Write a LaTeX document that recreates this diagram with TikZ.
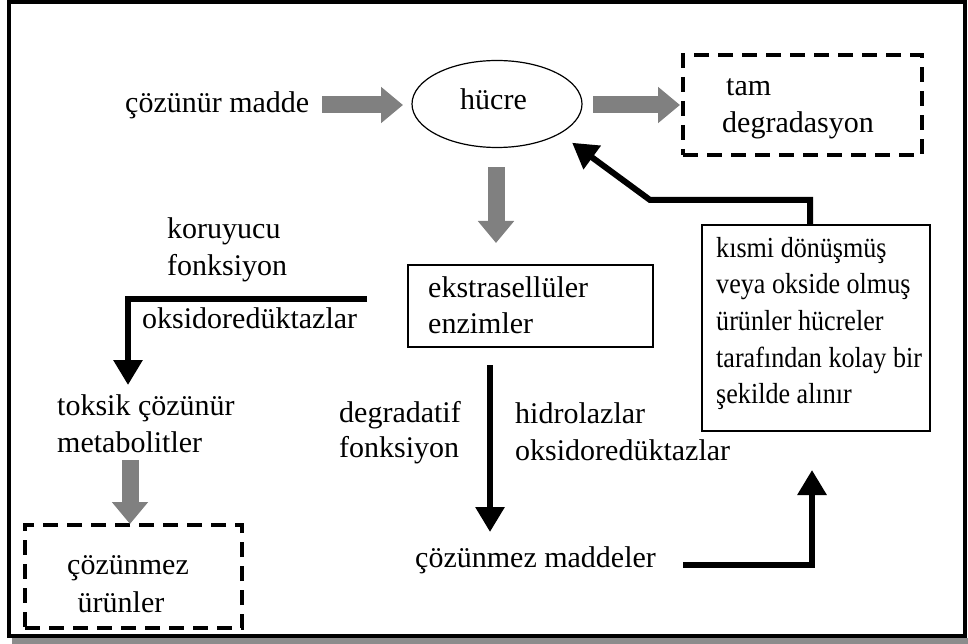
\documentclass[tikz,border=0pt]{standalone}
\usepackage{fontspec}
\setmainfont{Liberation Serif}
\newfontfamily\rbfont[FakeStretch=0.9]{Liberation Serif}
\usetikzlibrary{arrows.meta,shapes.geometric,calc}
\definecolor{garr}{RGB}{128,128,128}
\definecolor{shad}{RGB}{140,140,140}
\begin{document}
\begin{tikzpicture}[x=1pt,y=-1pt,
  txt/.style={font=\fontsize{30}{36}\selectfont, inner sep=0pt, anchor=base west},
  rtxt/.style={font=\rbfont\fontsize{29}{36}\selectfont, inner sep=0pt, anchor=base west},
  garrow/.style={draw=garr, line width=17pt, -{Triangle[width=35pt,length=22pt]}},
  barrow/.style={draw=black, line width=6pt, -{Triangle[width=28pt,length=25pt]}},
  box/.style={draw, line width=1.5pt, inner sep=0pt, outer sep=0pt},
  dbox/.style={draw, line width=4.5pt, dash pattern=on 15pt off 9pt, inner sep=0pt, outer sep=0pt}]
\useasboundingbox (0,0) rectangle (968,644);
% frame and shadow
\fill[shad] (12,638) rectangle (968,644);
\draw[line width=4pt] (9,2.5) rectangle (964.5,636);

% nodes
\node[txt] (t1) at (125,113) {çözünür madde};
\node[draw, ellipse, line width=1.2pt, minimum width=170pt, minimum height=87pt, inner sep=0pt, outer sep=0pt] (cell) at (497,104) {};
\node[txt] (hu) at (460,110) {hücre};
\node[dbox, minimum width=239pt, minimum height=100pt] (tam) at (802.5,105) {};
\node[txt] (tam1) at (726,96) {tam};
\node[txt] (tam2) at (722,133) {degradasyon};

\node[box, minimum width=245pt, minimum height=82pt] (ek) at (530.5,306) {};
\node[txt] (ek1) at (428,297) {ekstrasellüler};
\node[txt] (ek2) at (428,333) {enzimler};

\node[txt] (kor1) at (167,238) {koruyucu};
\node[txt] (kor2) at (167,275) {fonksiyon};
\node[txt] (oks1) at (142,328) {oksidoredüktazlar};
\node[txt] (tox1) at (57,415) {toksik çözünür};
\node[txt] (tox2) at (57,452) {metabolitler};

\node[dbox, minimum width=217pt, minimum height=103pt] (cz) at (133.5,576.5) {};
\node[txt, anchor=base] (cz1) at (128,574) {çözünmez};
\node[txt, anchor=base] (cz2) at (121,612) {ürünler};

\node[txt] (deg1) at (339,422) {degradatif};
\node[txt] (deg2) at (339,457) {fonksiyon};
\node[txt] (hid1) at (515,423) {hidrolazlar};
\node[txt] (hid2) at (515,460) {oksidoredüktazlar};
\node[txt] (cm) at (415,567) {çözünmez maddeler};

\node[box, minimum width=228pt, minimum height=206pt] (rb) at (816,328) {};
\node[rtxt] (rb1) at (716,257) {kısmi dönüşmüş};
\node[rtxt] (rb2) at (716,293) {veya okside olmuş};
\node[rtxt] (rb3) at (716,330) {ürünler hücreler};
\node[rtxt] (rb4) at (716,367) {tarafından kolay bir};
\node[rtxt] (rb5) at (716,403) {şekilde alınır};

% gray block arrows
\draw[garrow] ($(cell.west)+(-90,1)$) -- ($(cell.west)+(-9,1)$);
\draw[garrow] ($(cell.east)+(11,1)$) -- ($(tam.west)+(-3,0)$);
\draw[garrow] ($(cell.south)+(-1,20)$) -- ($(cell.south |- ek.north)+(-1,-22)$);
\draw[garrow] ($(tox2.base west)+(73,8)$) -- ($(cz.north)+(-3.5,-1)$);

% black arrows
\draw[barrow] ($(ek.west)+(-41,-7)$) -| ($(tox1.base west)+(71,-30)$);
\draw[barrow] ($(ek.south)+(-40.5,18)$) -- ($(cm.base west)+(75,-35)$);
\draw[barrow] ($(cm.base west)+(268,-2)$) -| ($(rb.south)+(-4,39)$);
\draw[barrow] ($(rb.north)+(-6,0)$) -- ($(rb.north)+(-6,-25)$) -- ($(rb.north)+(-166,-25)$) -- ($(cell.south east)+(15,8)$);
\end{tikzpicture}
\end{document}
